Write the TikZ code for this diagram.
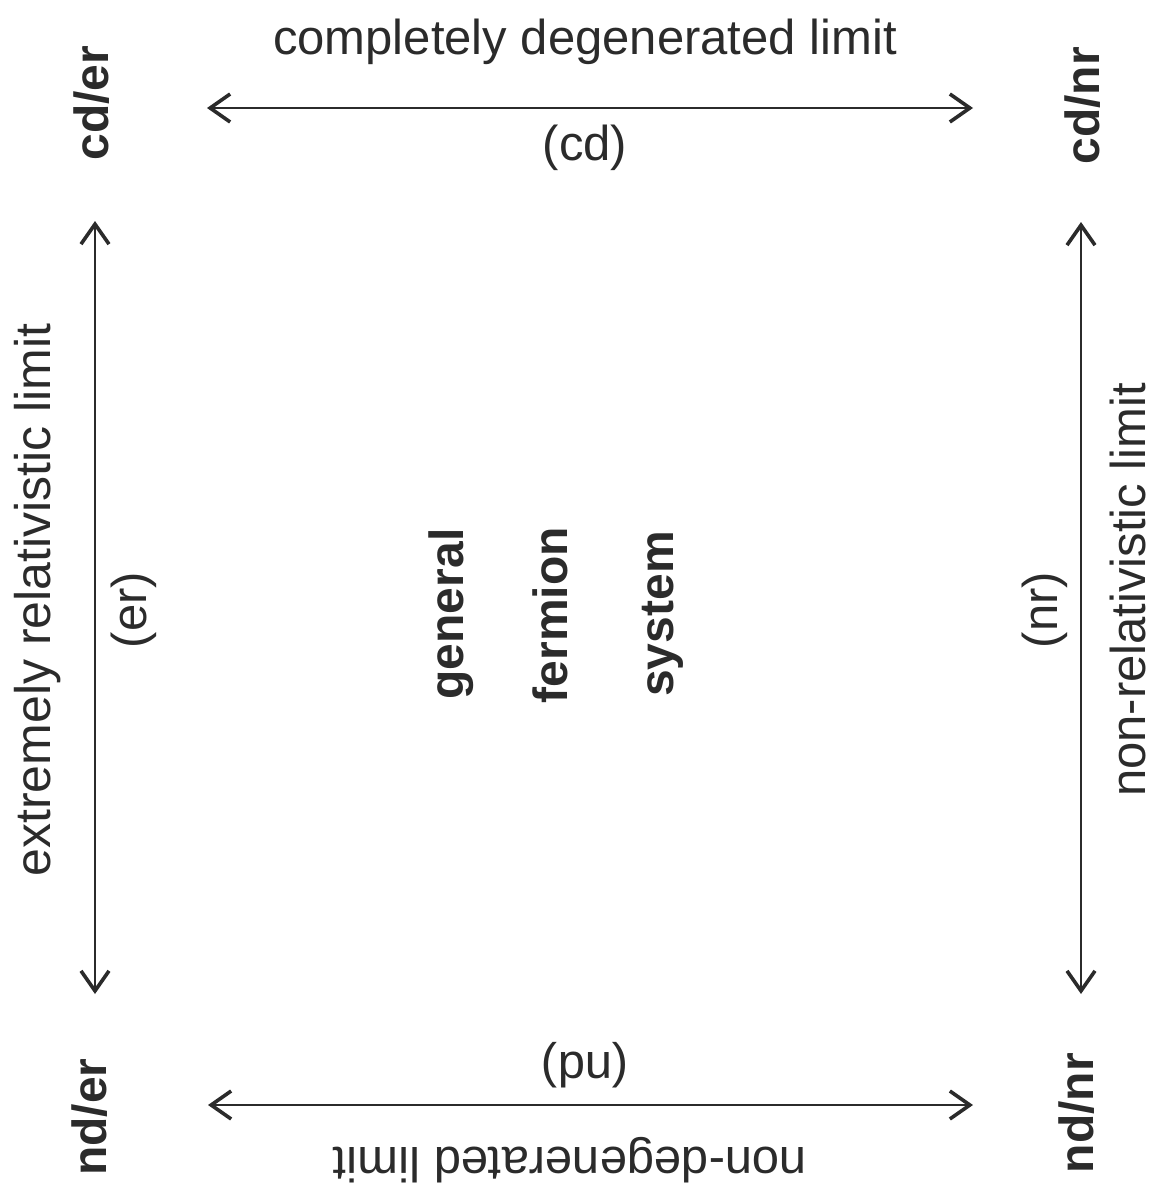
\documentclass[tikz,border=0pt]{standalone}
\usepackage{fontspec}
\setmainfont{Liberation Sans}
\usetikzlibrary{arrows.meta}
\definecolor{ink}{HTML}{2B2B2B}
\tikzset{
  lbl/.style={text=ink, inner sep=0pt, font=\fontsize{49}{58}\selectfont},
  bld/.style={text=ink, inner sep=0pt, font=\fontsize{48}{58}\selectfont\bfseries},
  dbl/.style={draw=ink, line width=1.8pt, {Straight Barb[length=20pt,width=28pt,line width=3.6pt]}-{Straight Barb[length=20pt,width=28pt,line width=3.6pt]}}
}
\begin{document}
\begin{tikzpicture}[x=1pt,y=-1pt]
\useasboundingbox[fill=white] (0,0) rectangle (1157,1194);
% corner states
\node[bld, rotate=90] (cder) at (92,103) {cd/er};
\node[bld, rotate=90] (cdnr) at (1083,106) {cd/nr};
\node[bld, rotate=90] (nder) at (90,1117) {nd/er};
\node[bld, rotate=90] (ndnr) at (1077,1113) {nd/nr};
% centre
\node[bld, rotate=90] (gen) at (451,614) {general};
\node[bld, rotate=90] (fer) at (550,615) {fermion};
\node[bld, rotate=90] (sys) at (663,614) {system};
% arrow ends
\coordinate (tl) at (207,108);
\coordinate (tr) at (973,108);
\coordinate (bl) at (208,1105);
\coordinate (br) at (973,1105);
\coordinate (lt) at (95,221);
\coordinate (lb) at (95,994);
\coordinate (rt) at (1081,222);
\coordinate (rb) at (1081,994);
\draw[dbl] (tl) -- (tr);
\draw[dbl] (bl) -- (br);
\draw[dbl] (lt) -- (lb);
\draw[dbl] (rt) -- (rb);
% labels
\node[lbl] (cdl) at (585,42) {completely degenerated limit};
\node[lbl] (cd) at (585,148) {(cd)};
\node[lbl, rotate=90, font=\fontsize{50}{58}\selectfont] (erl) at (38,600) {extremely relativistic limit};
\node[lbl, rotate=90] (er) at (134,610) {(er)};
\node[lbl, rotate=90] (nrl) at (1128,590) {non-relativistic limit};
\node[lbl, rotate=90] (nr) at (1045,610) {(nr)};
\node[lbl, rotate=180] (nd) at (585,1065) {(nd)};
\node[lbl, rotate=180] (ndl) at (570,1160) {non-degenerated limit};
\end{tikzpicture}
\end{document}
